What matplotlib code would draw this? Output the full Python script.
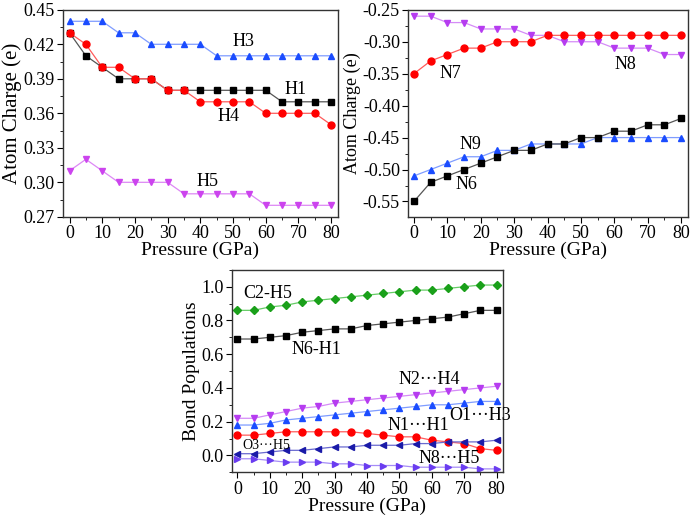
import numpy as np
import matplotlib
matplotlib.use('Agg')
import matplotlib.pyplot as plt
from matplotlib.ticker import MultipleLocator, AutoMinorLocator, FormatStrFormatter

plt.rcParams['font.family'] = 'Liberation Serif'

pressure = np.arange(0, 85, 5)

# atom charges, H atoms
H3 = [0.44, 0.44, 0.44, 0.43, 0.43, 0.42, 0.42, 0.42, 0.42, 0.41, 0.41, 0.41, 0.41, 0.41, 0.41, 0.41, 0.41]
H1 = [0.43, 0.41, 0.40, 0.39, 0.39, 0.39, 0.38, 0.38, 0.38, 0.38, 0.38, 0.38, 0.38, 0.37, 0.37, 0.37, 0.37]
H4 = [0.43, 0.42, 0.40, 0.40, 0.39, 0.39, 0.38, 0.38, 0.37, 0.37, 0.37, 0.37, 0.36, 0.36, 0.36, 0.36, 0.35]
H5 = [0.31, 0.32, 0.31, 0.30, 0.30, 0.30, 0.30, 0.29, 0.29, 0.29, 0.29, 0.29, 0.28, 0.28, 0.28, 0.28, 0.28]

# atom charges, N atoms
N8 = [-0.26, -0.26, -0.27, -0.27, -0.28, -0.28, -0.28, -0.29, -0.29, -0.30, -0.30, -0.30, -0.31, -0.31, -0.31, -0.32, -0.32]
N7 = [-0.35, -0.33, -0.32, -0.31, -0.31, -0.30, -0.30, -0.30, -0.29, -0.29, -0.29, -0.29, -0.29, -0.29, -0.29, -0.29, -0.29]
N9 = [-0.51, -0.50, -0.49, -0.48, -0.48, -0.47, -0.47, -0.46, -0.46, -0.46, -0.46, -0.45, -0.45, -0.45, -0.45, -0.45, -0.45]
N6 = [-0.55, -0.52, -0.51, -0.50, -0.49, -0.48, -0.47, -0.47, -0.46, -0.46, -0.45, -0.45, -0.44, -0.44, -0.43, -0.43, -0.42]

# bond populations
C2_H5 = [0.86, 0.86, 0.88, 0.89, 0.91, 0.92, 0.93, 0.94, 0.95, 0.96, 0.97, 0.98, 0.98, 0.99, 1.00, 1.01, 1.01]
N6_H1 = [0.69, 0.69, 0.70, 0.71, 0.73, 0.74, 0.75, 0.75, 0.77, 0.78, 0.79, 0.80, 0.81, 0.82, 0.84, 0.86, 0.86]
N2_H4 = [0.22, 0.22, 0.24, 0.26, 0.28, 0.29, 0.31, 0.32, 0.33, 0.34, 0.35, 0.36, 0.37, 0.38, 0.39, 0.40, 0.41]
O1_H3 = [0.18, 0.18, 0.19, 0.21, 0.22, 0.23, 0.24, 0.25, 0.26, 0.27, 0.28, 0.29, 0.30, 0.30, 0.31, 0.32, 0.32]
N1_H1 = [0.12, 0.12, 0.13, 0.14, 0.14, 0.14, 0.14, 0.14, 0.13, 0.12, 0.11, 0.11, 0.09, 0.08, 0.07, 0.04, 0.03]
O3_H5 = [0.01, 0.01, 0.02, 0.03, 0.03, 0.04, 0.05, 0.05, 0.06, 0.06, 0.06, 0.07, 0.07, 0.08, 0.08, 0.08, 0.09]
N8_H5 = [-0.02, -0.02, -0.03, -0.04, -0.04, -0.04, -0.05, -0.05, -0.06, -0.06, -0.06, -0.07, -0.07, -0.07, -0.07, -0.08, -0.08]


def curve(ax, y, marker, mcolor, lcolor, ms=5):
    ax.plot(pressure, y, color=lcolor, lw=0.9, marker=marker, ms=ms,
            mfc=mcolor, mec=mcolor)


def style(ax, ylabel, yfs=14):
    ax.set_xlabel('Pressure (GPa)', fontsize=14, labelpad=0)
    ax.set_ylabel(ylabel, fontsize=yfs, labelpad=1)
    ax.xaxis.set_major_locator(MultipleLocator(10))
    ax.xaxis.set_minor_locator(MultipleLocator(5))
    ax.yaxis.set_minor_locator(AutoMinorLocator(2))
    ax.tick_params(which='both', direction='out', labelsize=13, pad=2)
    ax.tick_params(which='major', length=4)
    ax.tick_params(which='minor', length=2)
    for s in ax.spines.values():
        s.set_linewidth(1.0)
        s.set_color('#333333')


fig = plt.figure(figsize=(6.92, 5.15), dpi=100)

# top left
ax1 = fig.add_axes([0.091, 0.579, 0.397, 0.402])
curve(ax1, H3, '^', '#1a4cff', '#7f9cff')
curve(ax1, H1, 's', '#000000', '#555555')
curve(ax1, H4, 'o', '#ff0000', '#ff5a5a')
curve(ax1, H5, 'v', '#cc44ee', '#dd88f5')
ax1.set_xlim(-2, 82)
ax1.set_ylim(0.27, 0.45)
ax1.yaxis.set_major_locator(MultipleLocator(0.03))
ax1.yaxis.set_major_formatter(FormatStrFormatter('%.2f'))
style(ax1, 'Atom Charge (e)', 15)
for txt, x, y in [('H3', 49.8, 0.4223), ('H1', 65.8, 0.381), ('H4', 45.3, 0.3574), ('H5', 38.7, 0.301)]:
    ax1.text(x, y, txt, fontsize=13, ha='left', va='center')

# top right
ax2 = fig.add_axes([0.590, 0.579, 0.404, 0.402])
curve(ax2, N8, 'v', '#b63cf0', '#d58cf7')
curve(ax2, N7, 'o', '#ff0000', '#ff5a5a')
curve(ax2, N9, '^', '#1a4cff', '#7f9cff')
curve(ax2, N6, 's', '#000000', '#555555')
ax2.set_xlim(-1.7, 82)
ax2.set_ylim(-0.574, -0.25)
ax2.yaxis.set_major_locator(MultipleLocator(0.05))
ax2.yaxis.set_major_formatter(FormatStrFormatter('%.2f'))
style(ax2, 'Atom Charge (e)', 13)
for txt, x, y in [('N7', 7.8, -0.3495), ('N8', 60.1, -0.336), ('N9', 13.7, -0.4607), ('N6', 12.5, -0.524)]:
    ax2.text(x, y, txt, fontsize=13, ha='left', va='center')

# bottom
ax3 = fig.add_axes([0.335, 0.083, 0.392, 0.393])
curve(ax3, C2_H5, 'D', '#1aa01a', '#66cc66', ms=4.5)
curve(ax3, N6_H1, 's', '#000000', '#555555')
curve(ax3, N2_H4, 'v', '#b63cf0', '#d58cf7')
curve(ax3, O1_H3, '^', '#1a4cff', '#7f9cff')
curve(ax3, N1_H1, 'o', '#ff0000', '#ff5a5a')
curve(ax3, O3_H5, '<', '#1a1aa8', '#6a6ad0')
curve(ax3, N8_H5, '>', '#6a3cf0', '#a58cf7')
ax3.set_xlim(-1.7, 82)
ax3.set_ylim(-0.1, 1.1)
ax3.yaxis.set_major_locator(MultipleLocator(0.2))
ax3.yaxis.set_major_formatter(FormatStrFormatter('%.1f'))
style(ax3, 'Bond Populations', 14)
labels3 = [('C2-H5', 1.7, 0.96, 13), ('N6-H1', 16.7, 0.626, 13),
           ('N2\u00b7\u00b7\u00b7H4', 49.6, 0.447, 13), ('O1\u00b7\u00b7\u00b7H3', 65.5, 0.235, 13),
           ('N1\u00b7\u00b7\u00b7H1', 46.3, 0.175, 13), ('O3\u00b7\u00b7\u00b7H5', 1.7, 0.06, 10),
           ('N8\u00b7\u00b7\u00b7H5', 55.9, -0.02, 13)]
for txt, x, y, fs in labels3:
    ax3.text(x, y, txt, fontsize=fs, ha='left', va='center')

plt.savefig('out.png', dpi=100)
